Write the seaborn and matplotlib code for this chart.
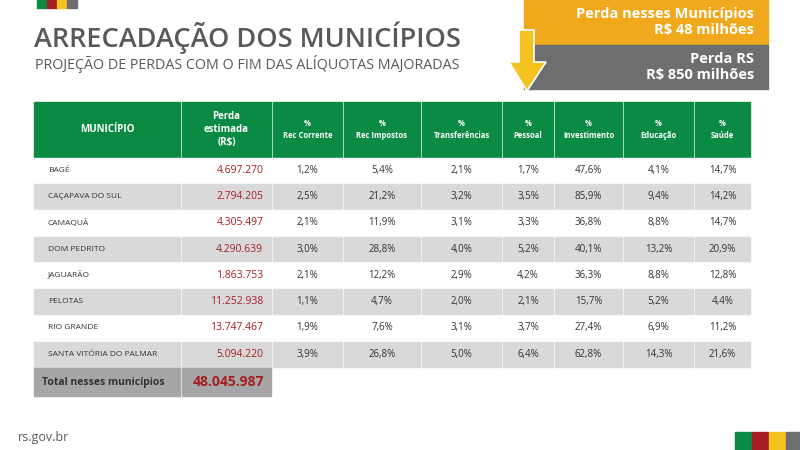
import matplotlib
matplotlib.use("Agg")
import matplotlib.pyplot as plt
import seaborn as sns
from matplotlib.patches import Rectangle, Polygon

sns.set_theme(style="white")
plt.rcParams["font.family"] = "Open Sans"

# data
municipios = ["BAGÉ", "CAÇAPAVA DO SUL", "CAMAQUÃ", "DOM PEDRITO", "JAGUARÃO",
              "PELOTAS", "RIO GRANDE", "SANTA VITÓRIA DO PALMAR"]
perda = ["4.697.270", "2.794.205", "4.305.497", "4.290.639", "1.863.753",
         "11.252.938", "13.747.467", "5.094.220"]
rec_corrente = ["1,2%", "2,5%", "2,1%", "3,0%", "2,1%", "1,1%", "1,9%", "3,9%"]
rec_impostos = ["5,4%", "21,2%", "11,9%", "28,8%", "12,2%", "4,7%", "7,6%", "26,8%"]
transferencias = ["2,1%", "3,2%", "3,1%", "4,0%", "2,9%", "2,0%", "3,1%", "5,0%"]
pessoal = ["1,7%", "3,5%", "3,3%", "5,2%", "4,2%", "2,1%", "3,7%", "6,4%"]
investimento = ["47,6%", "85,9%", "36,8%", "40,1%", "36,3%", "15,7%", "27,4%", "62,8%"]
educacao = ["4,1%", "9,4%", "8,8%", "13,2%", "8,8%", "5,2%", "6,9%", "14,3%"]
saude = ["14,7%", "14,2%", "14,7%", "20,9%", "12,8%", "4,4%", "11,2%", "21,6%"]
headers = ["MUNICÍPIO", "Perda\nestimada\n(R$)", "%\nRec Corrente", "%\nRec Impostos",
           "%\nTransferências", "%\nPessoal", "%\nInvestimento", "%\nEducação", "%\nSaúde"]
total_label = "Total nesses municípios"
total_value = "48.045.987"

columns = [municipios, perda, rec_corrente, rec_impostos, transferencias,
           pessoal, investimento, educacao, saude]

GREEN = "#0b8a43"
RED = "#a41e22"
YELLOW = "#f5c320"
GRAY = "#6d6e70"
ORANGE = "#f0a81c"
TEXT = "#58595b"

fig = plt.figure(figsize=(8, 4.5), dpi=100)
ax = fig.add_axes([0, 0, 1, 1])
ax.set_xlim(0, 800)
ax.set_ylim(450, 0)
ax.axis("off")

# logo bars
for i, c in enumerate([GREEN, RED, YELLOW, GRAY]):
    ax.add_patch(Rectangle((37 + i * 10, 0), 10, 8, color=c))
    ax.add_patch(Rectangle((735 + i * 17, 432), 16, 18, color=c))

ax.text(34, 38, "ARRECADAÇÃO DOS MUNICÍPIOS", fontsize=19.5, fontweight="semibold",
        color=TEXT, va="center")
ax.text(35, 64, "PROJEÇÃO DE PERDAS COM O FIM DAS ALÍQUOTAS MAJORADAS", fontsize=10.3,
        color=TEXT, va="center")

# loss boxes
ax.add_patch(Rectangle((524, 0), 244, 45, color=ORANGE))
ax.add_patch(Rectangle((524, 45), 244, 44, color=GRAY))
ax.text(754, 22, "Perda nesses Municípios\nR$ 48 milhões", fontsize=10.5, fontweight="bold",
        color="white", ha="right", va="center", linespacing=1.1)
ax.text(754, 67, "Perda RS\nR$ 850 milhões", fontsize=10.5, fontweight="bold",
        color="white", ha="right", va="center", linespacing=1.1)
ax.add_patch(Polygon([[519, 30], [534, 30], [534, 62], [546, 62], [527, 91], [509, 62], [519, 62]],
                     closed=True, facecolor=YELLOW, edgecolor="white", lw=1.2))

# table
edges = [33, 181, 272, 343, 421, 502, 554, 623, 694, 751]
gap = 1.5
top, head_h, row_h = 102, 55, 26.3
for j, h in enumerate(headers):
    x0, x1 = edges[j] + gap / 2, edges[j + 1] - gap / 2
    ax.add_patch(Rectangle((x0, top), x1 - x0, head_h, color=GREEN))
    fs = 7 if j < 2 else 5.5
    ax.text((x0 + x1) / 2, top + head_h / 2, h, fontsize=fs,
            fontweight="bold", color="white", ha="center", va="center", linespacing=1.3)

y0 = top + head_h
for i in range(len(municipios)):
    yt = y0 + i * row_h
    fill = "#d9d9d9" if i % 2 == 1 else "white"
    for j, col in enumerate(columns):
        x0, x1 = edges[j] + gap / 2, edges[j + 1] - gap / 2
        ax.add_patch(Rectangle((x0, yt + gap / 2), x1 - x0, row_h - gap, color=fill))
        if j == 0:
            ax.text(x0 + 14, yt + row_h / 2, col[i], fontsize=6, color="#333333", va="center")
        elif j == 1:
            ax.text(x1 - 8, yt + row_h / 2, col[i], fontsize=7.5, color=RED, ha="right", va="center")
        else:
            ax.text((x0 + x1) / 2, yt + row_h / 2, col[i], fontsize=7, color="#333333",
                    ha="center", va="center")

yt = y0 + len(municipios) * row_h
for j in range(2):
    x0, x1 = edges[j] + gap / 2, edges[j + 1] - gap / 2
    ax.add_patch(Rectangle((x0, yt + gap / 2), x1 - x0, 28, color="#a6a6a6"))
ax.text(edges[0] + 9, yt + 15, total_label, fontsize=7.5, fontweight="bold", color="#333333", va="center")
ax.text(edges[2] - 8, yt + 15, total_value, fontsize=10, fontweight="bold", color=RED,
        ha="right", va="center")

ax.text(18, 437, "rs.gov.br", fontsize=9, color=TEXT, va="center")

fig.savefig("out.png", dpi=100)
